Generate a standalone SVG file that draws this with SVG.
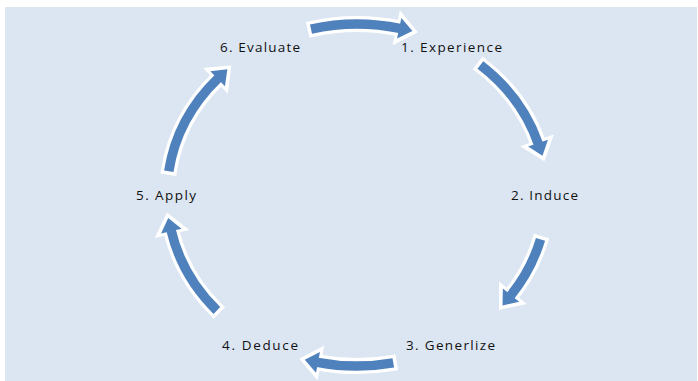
<svg xmlns="http://www.w3.org/2000/svg" width="698" height="381" viewBox="0 0 698 381">
<style>
.lbl{font-family:"Open Sans","Liberation Sans",sans-serif;font-size:13.5px;fill:#111;}
.out{fill:none;stroke:#fff;stroke-width:16;marker-start:url(#wt);marker-end:url(#wh);}
.arc{fill:none;stroke:#4F81BD;stroke-width:9.5;marker-end:url(#bh);}
</style>
<defs>
<marker id="bh" markerUnits="userSpaceOnUse" orient="auto" refX="0" refY="0" markerWidth="40" markerHeight="40" viewBox="-20 -20 40 40" overflow="visible">
<path d="M-0.5,-10.5 L13,0 L-0.5,10.5 Z" fill="#4F81BD"/>
</marker>
<marker id="wh" markerUnits="userSpaceOnUse" orient="auto" refX="0" refY="0" markerWidth="40" markerHeight="40" viewBox="-20 -20 40 40" overflow="visible">
<path d="M0,-10.5 L13,0 L0,10.5 Z" fill="#fff" stroke="#fff" stroke-width="7" stroke-linejoin="miter"/>
</marker>
<marker id="wt" markerUnits="userSpaceOnUse" orient="auto" refX="0" refY="0" markerWidth="40" markerHeight="40" viewBox="-20 -20 40 40" overflow="visible">
<rect x="-3.5" y="-8" width="4" height="16" fill="#fff"/>
</marker>
</defs>
<rect x="5" y="7" width="692" height="374" fill="#DCE6F2"/>
<g id="connectors">
<path class="out" d="M311,29.1 A190 171 0 0 1 399.7,28.4"/>
<path class="out" d="M480.4,65 A190 171 0 0 1 538.2,143.6"/>
<path class="out" d="M540.5,239.3 A190 171 0 0 1 510.7,295.5"/>
<path class="out" d="M393.3,362.9 A190 171 0 0 1 317.5,362.3"/>
<path class="out" d="M216.9,310.5 A190 171 0 0 1 171.2,230.6"/>
<path class="out" d="M168.8,171.2 A190 171 0 0 1 218,78.4"/>
<path class="arc" d="M311,29.1 A190 171 0 0 1 399.7,28.4"/>
<path class="arc" d="M480.4,65 A190 171 0 0 1 538.2,143.6"/>
<path class="arc" d="M540.5,239.3 A190 171 0 0 1 510.7,295.5"/>
<path class="arc" d="M393.3,362.9 A190 171 0 0 1 317.5,362.3"/>
<path class="arc" d="M216.9,310.5 A190 171 0 0 1 171.2,230.6"/>
<path class="arc" d="M168.8,171.2 A190 171 0 0 1 218,78.4"/>
</g>
<g id="n1"><text class="lbl" x="401" y="52" textLength="101" lengthAdjust="spacing">1. Experience</text></g>
<g id="n2"><text class="lbl" x="511" y="200" textLength="67" lengthAdjust="spacing">2. Induce</text></g>
<g id="n3"><text class="lbl" x="406" y="350" textLength="89" lengthAdjust="spacing">3. Generlize</text></g>
<g id="n4"><text class="lbl" x="222" y="350" textLength="76" lengthAdjust="spacing">4. Deduce</text></g>
<g id="n5"><text class="lbl" x="136" y="200" textLength="60" lengthAdjust="spacing">5. Apply</text></g>
<g id="n6"><text class="lbl" x="220" y="52" textLength="80" lengthAdjust="spacing">6. Evaluate</text></g>
</svg>
